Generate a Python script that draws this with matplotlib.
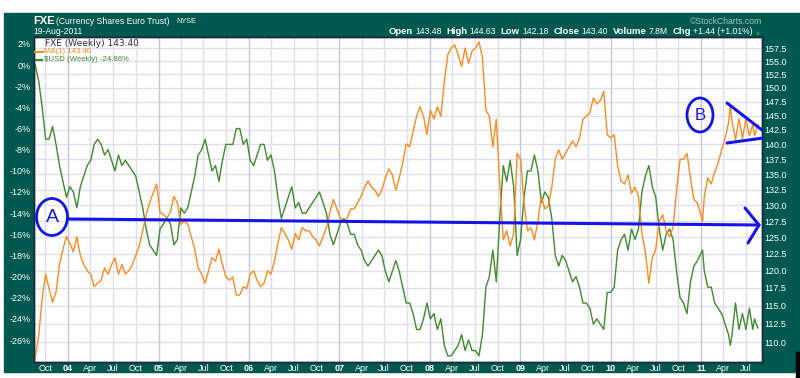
import numpy as np
import pandas as pd
import matplotlib
matplotlib.use("Agg")
import matplotlib.pyplot as plt
from matplotlib import transforms as mtransforms
from matplotlib.patches import Ellipse, Rectangle
from matplotlib.lines import Line2D
from matplotlib.ticker import NullLocator, NullFormatter

###
### Data (weekly closes, sampled about every two weeks)
###
dates = [
    "2003-08-22", "2003-09-05", "2003-09-19", "2003-10-03", "2003-10-17", "2003-10-31",
    "2003-11-14", "2003-11-28", "2003-12-12", "2003-12-26",
    "2004-01-09", "2004-01-23", "2004-02-06", "2004-02-20", "2004-03-05", "2004-03-19",
    "2004-04-02", "2004-04-16", "2004-04-30", "2004-05-14", "2004-05-28", "2004-06-11",
    "2004-06-25", "2004-07-09", "2004-07-23", "2004-08-06", "2004-08-20", "2004-09-03",
    "2004-09-17", "2004-10-01", "2004-10-15", "2004-10-29", "2004-11-12", "2004-11-26",
    "2004-12-10", "2004-12-24",
    "2005-01-07", "2005-01-21", "2005-02-04", "2005-02-18", "2005-03-04", "2005-03-18",
    "2005-04-01", "2005-04-15", "2005-04-29", "2005-05-13", "2005-05-27", "2005-06-10",
    "2005-06-24", "2005-07-08", "2005-07-22", "2005-08-05", "2005-08-19", "2005-09-02",
    "2005-09-16", "2005-09-30", "2005-10-14", "2005-10-28", "2005-11-11", "2005-11-25",
    "2005-12-09", "2005-12-23",
    "2006-01-06", "2006-01-20", "2006-02-03", "2006-02-17", "2006-03-03", "2006-03-17",
    "2006-03-31", "2006-04-14", "2006-04-28", "2006-05-12", "2006-05-26", "2006-06-09",
    "2006-06-23", "2006-07-07", "2006-07-21", "2006-08-04", "2006-08-18", "2006-09-01",
    "2006-09-15", "2006-09-29", "2006-10-13", "2006-10-27", "2006-11-10", "2006-11-24",
    "2006-12-08", "2006-12-22",
    "2007-01-05", "2007-01-19", "2007-02-02", "2007-02-16", "2007-03-02", "2007-03-16",
    "2007-03-30", "2007-04-13", "2007-04-27", "2007-05-11", "2007-05-25", "2007-06-08",
    "2007-06-22", "2007-07-06", "2007-07-20", "2007-08-03", "2007-08-17", "2007-08-31",
    "2007-09-14", "2007-09-28", "2007-10-12", "2007-10-26", "2007-11-09", "2007-11-23",
    "2007-12-07", "2007-12-21",
    "2008-01-04", "2008-01-18", "2008-02-01", "2008-02-15", "2008-02-29", "2008-03-14",
    "2008-03-28", "2008-04-11", "2008-04-25", "2008-05-09", "2008-05-23", "2008-06-06",
    "2008-06-20", "2008-07-04", "2008-07-18", "2008-08-01", "2008-08-15", "2008-08-29",
    "2008-09-12", "2008-09-26", "2008-10-10", "2008-10-24", "2008-11-07", "2008-11-21",
    "2008-12-05", "2008-12-19",
    "2009-01-02", "2009-01-16", "2009-01-30", "2009-02-13", "2009-02-27", "2009-03-13",
    "2009-03-27", "2009-04-10", "2009-04-24", "2009-05-08", "2009-05-22", "2009-06-05",
    "2009-06-19", "2009-07-03", "2009-07-17", "2009-07-31", "2009-08-14", "2009-08-28",
    "2009-09-11", "2009-09-25", "2009-10-09", "2009-10-23", "2009-11-06", "2009-11-20",
    "2009-12-04", "2009-12-18",
    "2010-01-01", "2010-01-15", "2010-01-29", "2010-02-12", "2010-02-26", "2010-03-12",
    "2010-03-26", "2010-04-09", "2010-04-23", "2010-05-07", "2010-05-21", "2010-06-04",
    "2010-06-18", "2010-07-02", "2010-07-16", "2010-07-30", "2010-08-13", "2010-08-27",
    "2010-09-10", "2010-09-24", "2010-10-08", "2010-10-22", "2010-11-05", "2010-11-19",
    "2010-12-03", "2010-12-17",
    "2011-01-07", "2011-01-14", "2011-01-28", "2011-02-11", "2011-02-25", "2011-03-11",
    "2011-03-25", "2011-04-08", "2011-04-22", "2011-04-29", "2011-05-06", "2011-05-20",
    "2011-06-03", "2011-06-17", "2011-07-01", "2011-07-15", "2011-07-29", "2011-08-05",
    "2011-08-12", "2011-08-19",
]

fxe_close = [
    107.9, 110.9, 116.0, 119.5, 117.4, 115.5, 116.9, 120.9, 123.2, 125.1,
    124.1, 122.8, 125.1, 122.3, 120.9, 120.0, 119.5, 117.7, 118.2, 118.6, 120.4, 119.5, 120.9,
    121.9, 119.5, 120.9, 119.5, 120.0, 120.9, 122.3, 123.7, 126.0, 128.5, 130.4, 131.9, 133.4,
    128.9, 128.5, 128.0, 128.9, 131.4, 130.4, 127.0, 127.5, 127.0, 125.1, 123.2, 120.4, 119.5,
    118.2, 120.0, 121.9, 121.4, 123.2, 120.9, 119.1, 118.6, 119.1, 116.5, 116.5, 117.7, 117.4,
    119.5, 120.0, 118.6, 117.7, 118.2, 120.0, 119.5, 121.4, 124.1, 126.5, 125.6, 124.6, 123.2,
    125.6, 124.6, 126.5, 126.0, 126.0, 125.1, 124.6, 123.7, 125.1, 126.5, 128.9, 130.9, 129.4,
    128.0, 127.5, 128.0, 129.4, 129.4, 130.4, 131.4, 132.9, 133.9, 132.9, 132.4, 131.4, 132.4,
    134.4, 135.9, 134.9, 132.4, 134.4, 136.9, 140.1, 139.6, 142.2, 144.9, 146.6, 144.9, 141.7,
    146.0, 144.4, 146.6, 144.9, 151.1, 156.2, 157.5, 158.1, 156.2, 154.0, 157.5, 154.6, 156.9,
    157.5, 158.7, 155.7, 146.0, 144.9, 139.6, 144.4, 133.4, 124.6, 126.0, 123.7, 125.6, 138.5,
    137.5, 130.4, 126.0, 126.5, 124.6, 127.5, 131.4, 129.4, 129.9, 132.9, 137.5, 139.1, 137.5,
    138.5, 139.6, 140.6, 139.6, 141.1, 144.4, 144.9, 145.5, 148.2, 147.1, 147.7, 149.4, 141.7,
    141.1, 141.7, 136.4, 133.9, 133.4, 134.9, 131.9, 132.9, 131.4, 125.6, 122.8, 118.2, 121.9,
    123.2, 127.5, 128.5, 126.0, 125.1, 126.5, 132.4, 137.5, 137.5, 138.5, 134.4, 130.9, 130.4,
    127.5, 131.4, 134.4, 133.4, 135.4, 136.9, 139.1, 141.1, 143.8, 146.8, 144.0, 140.8, 144.5,
    141.0, 144.5, 141.5, 143.5, 141.5, 142.5, 143.4,
]

usd_pct = [
    0.0, -1.5, -4.0, -7.0, -7.0, -5.8, -7.5, -9.5, -11.0, -12.5,
    -11.5, -12.0, -13.5, -11.5, -10.5, -9.5, -9.0, -7.5, -7.0, -7.5, -8.5, -8.0, -9.0,
    -10.0, -8.5, -9.5, -9.0, -9.5, -10.0, -10.5, -12.0, -13.5, -15.5, -17.0, -17.5, -18.0,
    -15.5, -15.0, -14.5, -15.0, -17.0, -16.5, -13.5, -14.0, -13.5, -12.0, -10.5, -8.5, -8.0,
    -7.0, -8.5, -10.0, -9.5, -11.0, -9.0, -7.5, -7.5, -7.5, -6.0, -6.0, -7.5, -7.0,
    -9.0, -9.5, -8.5, -7.5, -7.5, -9.0, -8.5, -10.0, -12.5, -14.5, -13.5, -12.5, -11.5,
    -13.5, -13.0, -14.0, -14.0, -13.5, -13.0, -12.5, -12.0, -13.0, -14.0, -16.0, -17.0, -16.0,
    -15.0, -14.5, -15.0, -16.0, -16.0, -17.0, -17.5, -18.5, -19.0, -18.5, -18.0, -17.5, -18.0,
    -19.5, -20.5, -19.5, -18.5, -19.5, -21.0, -22.5, -22.5, -23.5, -25.0, -25.0, -24.0, -22.5,
    -24.0, -23.5, -25.0, -24.0, -26.5, -27.5, -27.5, -27.0, -26.5, -25.5, -27.0, -26.0, -27.0,
    -27.0, -27.5, -25.5, -21.0, -20.0, -17.5, -20.5, -14.5, -9.5, -11.0, -9.0, -11.5, -18.0,
    -16.5, -12.5, -10.0, -10.0, -8.5, -10.0, -13.0, -12.0, -12.5, -14.5, -18.0, -19.0, -18.0,
    -18.5, -19.5, -20.5, -20.0, -21.0, -22.5, -22.5, -23.0, -24.5, -24.0, -24.5, -25.0, -21.5,
    -21.5, -21.0, -17.5, -16.5, -16.0, -17.5, -15.5, -16.5, -15.5, -12.0, -10.5, -9.5, -11.5,
    -12.5, -15.5, -17.5, -16.0, -15.5, -16.5, -19.5, -22.0, -22.5, -23.5, -20.5, -19.0, -18.5,
    -17.5, -19.5, -21.0, -21.0, -22.5, -23.0, -23.5, -24.5, -25.5, -26.5, -25.5, -22.5, -25.0,
    -23.5, -25.0, -23.0, -25.0, -24.0, -24.5, -24.86,
]

pct_ticks = [2, 0, -2, -4, -6, -8, -10, -12, -14, -16, -18, -20, -22, -24, -26]
price_ticks = [157.5, 155.0, 152.5, 150.0, 147.5, 145.0, 142.5, 140.0, 137.5, 135.0,
               132.5, 130.0, 127.5, 125.0, 122.5, 120.0, 117.5, 115.0, 112.5, 110.0]

###
### Style
###
W, H      = 800, 378
TEAL      = "#00584f"
ORANGE    = "#ff8a1c"
GREEN     = "#3f8a2c"
BLUE      = "#1414e6"
GRID      = "#dedfec"
GRID_YEAR = "#c4c6da"
FONT      = "Liberation Sans"

def fx(x):
    return x / W

def fy(y):
    return 1 - y / H

fig = plt.figure(figsize=(W / 100, H / 100), dpi=100)
fig.patch.set_facecolor("white")
fig.patches.append(Rectangle((fx(4), fy(372)), (W - 4) / W, (372 - 13) / H,
                             transform=fig.transFigure, color=TEAL, zorder=-5))
fig.patches.append(Rectangle((fx(796), fy(378)), 4 / W, 26 / H,
                             transform=fig.transFigure, color="black", zorder=-4))

###
### Axes: percent (left, linear) and price (right, log)
###
ax = fig.add_axes([fx(34), fy(362), (762 - 34) / W, (362 - 37) / H])
ax.set_facecolor("white")
ax2 = ax.twinx()

d = pd.to_datetime(dates)
ax.set_xlim(pd.Timestamp("2003-08-17"), pd.Timestamp("2011-09-04"))
ax.set_ylim(-28.08, 2.66)
ax2.set_yscale("log")
ax2.set_ylim(107.35, 159.63)

# grid
quarters = pd.date_range("2003-10-01", "2011-07-01", freq="QS")
for q in quarters:
    ax.axvline(q, color=GRID_YEAR if q.month == 1 else GRID, lw=1.0, zorder=0.2)
hgrid_tr = mtransforms.blended_transform_factory(ax.transAxes, ax2.transData)
for p in price_ticks:
    ax.add_artist(Line2D([0, 1], [p, p], transform=hgrid_tr, color=GRID, lw=0.9, zorder=0.1))

# series
ax.plot(d, usd_pct, color=GREEN, lw=1.0, zorder=2)
ax2.plot(d, fxe_close, color=ORANGE, lw=1.0, zorder=2)

# ticks
ax.set_xticks(quarters)
ax.set_xticklabels([f"{q.year % 100:02d}" if q.month == 1 else q.strftime("%b") for q in quarters])
for q, lbl in zip(quarters, ax.get_xticklabels()):
    lbl.set_fontweight("bold" if q.month == 1 else "normal")
    lbl.set_fontsize(7 if q.month == 1 else 6.5)
ax.set_yticks(pct_ticks)
ax.set_yticklabels([f"{t}%" for t in pct_ticks])
ax2.set_yticks(price_ticks)
ax2.set_yticklabels([f"{p:.1f}" for p in price_ticks])
ax2.yaxis.set_minor_locator(NullLocator())
ax2.yaxis.set_minor_formatter(NullFormatter())

for a in (ax, ax2):
    a.tick_params(length=0, labelcolor="white", labelsize=6.5)
    for lbl in a.get_xticklabels() + a.get_yticklabels():
        lbl.set_family(FONT)
    for s in a.spines.values():
        s.set_color("#1e2640")
        s.set_linewidth(1.0)
ax.tick_params(axis="x", pad=1.5)
ax.tick_params(axis="y", pad=2.2)
ax2.tick_params(axis="y", pad=1.6)

###
### Header
###
fig.text(fx(33), fy(21), "FXE", color="white", fontsize=8, fontweight="bold",
         family=FONT, va="center", ha="left")
fig.text(fx(56), fy(21.5), "(Currency Shares Euro Trust)", color="white", fontsize=6.2,
         family=FONT, va="center", ha="left")
fig.text(fx(176), fy(21.5), "NYSE", color="white", fontsize=5.2,
         family=FONT, va="center", ha="left")
fig.text(fx(33), fy(31.5), "19-Aug-2011", color="white", fontsize=6.2,
         family=FONT, va="center", ha="left")
fig.text(fx(762), fy(21), "\u00a9StockCharts.com", color="#a8c4c0", fontsize=6.2,
         family=FONT, va="center", ha="right")

pieces = [("Open", True), ("143.48", False), ("High", True), ("144.63", False),
          ("Low", True), ("142.18", False), ("Close", True), ("143.40", False),
          ("Volume", True), ("7.8M", False), ("Chg", True), ("+1.44 (+1.01%)", False)]
renderer = fig.canvas.get_renderer()
texts, widths = [], []
for txt, bold in pieces:
    t = fig.text(0, fy(31.5), txt, color="white", family=FONT, va="center", ha="left",
                 fontsize=6.8 if bold else 6.2, fontweight="bold" if bold else "normal")
    texts.append(t)
    widths.append(t.get_window_extent(renderer=renderer).width)
gaps = [2.5 if bold else 4.5 for _, bold in pieces]
x = 753 - (sum(widths) + sum(gaps[:-1]))
for t, w, g in zip(texts, widths, gaps):
    t.set_x(fx(x))
    x += w + g
fig.text(fx(757.5), fy(32), "\u25b2", color="#3c9a3c", fontsize=3.5,
         family="DejaVu Sans", va="center", ha="center")

###
### Legend
###
fig.text(fx(45), fy(43), "FXE (Weekly) 143.40", color="#303030", fontsize=6.5,
         family="DejaVu Sans", va="center", ha="left")
fig.add_artist(Line2D([fx(35), fx(43)], [fy(51.5), fy(51.5)], color=ORANGE, lw=1.5,
                      transform=fig.transFigure))
fig.text(fx(44), fy(51.5), "MA(1) 143.40", color=ORANGE, fontsize=5.6,
         family=FONT, va="center", ha="left")
fig.add_artist(Line2D([fx(36), fx(42)], [fy(59.5), fy(59.5)], color=GREEN, lw=1.5,
                      transform=fig.transFigure))
fig.text(fx(44), fy(59.5), "$USD (Weekly) -24.86%", color=GREEN, fontsize=5.6,
         family=FONT, va="center", ha="left")

###
### Hand-drawn annotations
###
def stroke(xs, ys):
    fig.add_artist(Line2D([fx(v) for v in xs], [fy(v) for v in ys], color=BLUE, lw=2.2,
                          solid_capstyle="round", solid_joinstyle="round",
                          transform=fig.transFigure, zorder=10))

fig.add_artist(Ellipse((fx(52), fy(217)), 31 / W, 37 / H, fill=False, ec=BLUE, lw=2.0,
                       transform=fig.transFigure, zorder=10))
fig.text(fx(52.5), fy(218), "A", color=BLUE, fontsize=14, family=FONT,
         va="center", ha="center", zorder=10)
stroke([68, 759], [219, 225])
stroke([745, 759, 748], [208, 225, 243])

fig.add_artist(Ellipse((fx(700), fy(115)), 26 / W, 34 / H, fill=False, ec=BLUE, lw=2.0,
                       transform=fig.transFigure, zorder=10))
fig.text(fx(700.5), fy(115.5), "B", color=BLUE, fontsize=12, family=FONT,
         va="center", ha="center", zorder=10)
stroke([727, 762], [103, 130])
stroke([727, 763], [143, 138])

plt.savefig("out.png", dpi=100)
